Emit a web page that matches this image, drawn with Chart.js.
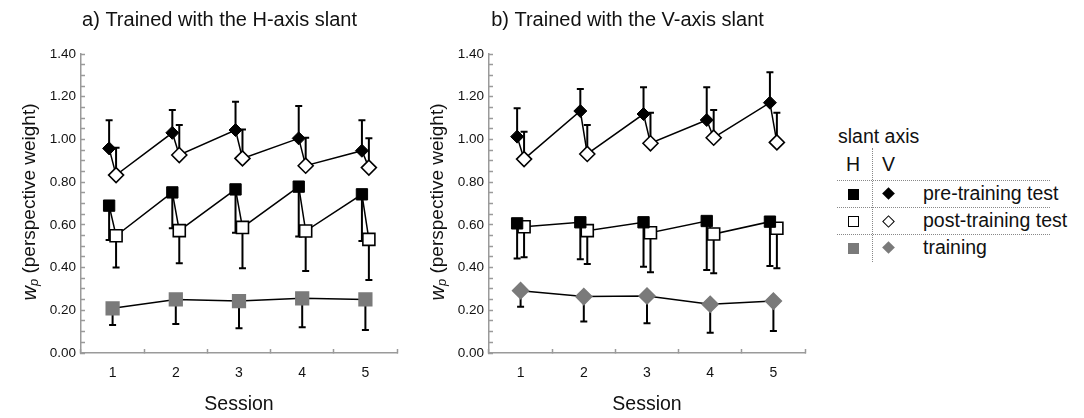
<!DOCTYPE html>
<html>
<head>
<meta charset="utf-8">
<script src="https://cdn.jsdelivr.net/npm/chart.js@4/dist/chart.umd.min.js"></script>
<style>
  body { margin: 0; background: #fff; width: 1084px; height: 418px; position: relative; overflow: hidden;
         font-family: "Liberation Sans", Arial, sans-serif; color: #111; }
  canvas { position: absolute; top: 0; }
  #chartA { left: 0; }
  #chartB { left: 408px; }
  .lg { position: absolute; font-size: 19.5px; line-height: 1; white-space: nowrap; }
  .hdot { position: absolute; height: 0; border-top: 1px dotted #888; }
  .vdot { position: absolute; width: 0; border-left: 1px dotted #888; }
  .sq { position: absolute; width: 11px; height: 11px; box-sizing: border-box; }
  .dm { position: absolute; width: 9px; height: 9px; box-sizing: border-box; transform: rotate(45deg); }
</style>
</head>
<body>
<canvas id="chartA" width="410" height="418"></canvas>
<canvas id="chartB" width="410" height="418"></canvas>

<div class="lg" style="left:838px; top:127px;">slant axis</div>
<div class="lg" style="left:846px; top:155px;">H</div>
<div class="lg" style="left:882px; top:155px;">V</div>
<div class="vdot" style="left:872px; top:148px; height:114px;"></div>
<div class="hdot" style="left:837px; top:180px; width:213px;"></div>
<div class="hdot" style="left:837px; top:207px; width:213px;"></div>
<div class="hdot" style="left:837px; top:234px; width:213px;"></div>
<div class="sq" style="left:848px; top:189px; background:#000;"></div>
<div class="dm" style="left:884px; top:189px; background:#000;"></div>
<div class="lg" style="left:923px; top:184px;">pre-training test</div>
<div class="sq" style="left:848px; top:216px; background:#fff; border:1.5px solid #000;"></div>
<div class="dm" style="left:884px; top:217px; background:#fff; border:1.5px solid #000;"></div>
<div class="lg" style="left:923px; top:211px;">post-training test</div>
<div class="sq" style="left:848px; top:243px; background:#7a7a7a;"></div>
<div class="dm" style="left:884px; top:243px; background:#7a7a7a;"></div>
<div class="lg" style="left:923px; top:238px;">training</div>

<script>
// sessions and tick labels
const sessions = [1, 2, 3, 4, 5];
const titleA = 'a) Trained with the H-axis slant';
const titleB = 'b) Trained with the V-axis slant';

// panel a: trained with H-axis slant (V = diamonds, H = squares)
const aVPre = [0.958, 1.031, 1.044, 1.005, 0.947];
const aVPreHi = [1.090, 1.138, 1.177, 1.156, 1.090];
const aVPost = [0.833, 0.927, 0.911, 0.877, 0.868];
const aVPostHi = [0.961, 1.067, 1.047, 1.008, 1.005];
const aHPre = [0.690, 0.752, 0.766, 0.779, 0.743];
const aHPreLo = [0.529, 0.584, 0.563, 0.545, 0.524];
const aHPost = [0.549, 0.573, 0.588, 0.571, 0.532];
const aHPostLo = [0.400, 0.420, 0.397, 0.384, 0.342];
const aTrain = [0.209, 0.251, 0.243, 0.256, 0.251];
const aTrainLo = [0.131, 0.136, 0.116, 0.120, 0.108];

// panel b: trained with V-axis slant
const bVPre = [1.013, 1.133, 1.119, 1.091, 1.172];
const bVPreHi = [1.146, 1.236, 1.244, 1.244, 1.314];
const bVPost = [0.908, 0.932, 0.982, 1.008, 0.986];
const bVPostHi = [1.036, 1.067, 1.125, 1.138, 1.125];
const bHPre = [0.607, 0.612, 0.612, 0.618, 0.615];
const bHPreLo = [0.443, 0.439, 0.404, 0.389, 0.407];
const bHPost = [0.591, 0.573, 0.563, 0.557, 0.584];
const bHPostLo = [0.448, 0.417, 0.378, 0.373, 0.397];
const bTrain = [0.292, 0.264, 0.267, 0.228, 0.243];
const bTrainLo = [0.217, 0.147, 0.139, 0.095, 0.103];

const SHIFT = 0.055;   // pre drawn a bit left of the session, post a bit right
const GREY = '#7a7a7a';
const FONT = '"Liberation Sans", Arial, sans-serif';

function pts(vals, dx) {
    return vals.map((v, i) => ({ x: sessions[i] + dx, y: v }));
}

function zigzag(pre, post) {
    const out = [];
    pre.forEach((v, i) => {
        out.push({ x: sessions[i] - SHIFT, y: v });
        out.push({ x: sessions[i] + SHIFT, y: post[i] });
    });
    return out;
}

// error bars: one-sided, from the mean to the stored end value
const errorBars = {
    id: 'errorBars',
    beforeDatasetsDraw(chart) {
        const ctx = chart.ctx;
        const ys = chart.scales.y;
        ctx.save();
        ctx.strokeStyle = '#000';
        ctx.lineWidth = 2;
        chart.data.datasets.forEach((ds, di) => {
            if (!ds.errEnd) return;
            const meta = chart.getDatasetMeta(di);
            meta.data.forEach((pt, i) => {
                const y2 = ys.getPixelForValue(ds.errEnd[i]);
                ctx.beginPath();
                ctx.moveTo(pt.x, pt.y);
                ctx.lineTo(pt.x, y2);
                ctx.moveTo(pt.x - 3.5, y2);
                ctx.lineTo(pt.x + 3.5, y2);
                ctx.stroke();
            });
        });
        ctx.restore();
    }
};

// panel title and italic w with subscript p on the y axis
const panelText = {
    id: 'panelText',
    afterDraw(chart, args, opts) {
        const ctx = chart.ctx;
        const area = chart.chartArea;
        ctx.save();
        ctx.fillStyle = '#111';
        ctx.textBaseline = 'middle';
        ctx.textAlign = 'center';
        ctx.font = '20px ' + FONT;
        ctx.fillText(opts.title, area.left + 138.5, 20);

        const big = '19px ' + FONT, ital = 'italic 20px ' + FONT, sub = 'italic 13px ' + FONT;
        const rest = ' (perspective weight)';
        ctx.font = ital; const ww = ctx.measureText('w').width;
        ctx.font = sub; const pw = ctx.measureText('p').width;
        ctx.font = big; const rw = ctx.measureText(rest).width;
        const total = ww + pw + rw;
        ctx.translate(30, 202);
        ctx.rotate(-Math.PI / 2);
        ctx.textAlign = 'left';
        let x = -total / 2;
        ctx.font = ital; ctx.fillText('w', x, 0); x += ww;
        ctx.font = sub; ctx.fillText('p', x, 4); x += pw;
        ctx.font = big; ctx.fillText(rest, x, 0);
        ctx.restore();
    }
};

function makeChart(id, title, d, trainStyle, trainRadius) {
    const datasets = [
        { label: 'V pre', data: pts(d.vPre, -SHIFT), errEnd: d.vPreHi, pointStyle: 'rectRot', pointRadius: 6.5,
          backgroundColor: '#000', borderColor: '#000', borderWidth: 1 },
        { label: 'V post', data: pts(d.vPost, SHIFT), errEnd: d.vPostHi, pointStyle: 'rectRot', pointRadius: 7.5,
          backgroundColor: '#fff', borderColor: '#000', borderWidth: 1.6 },
        { label: 'H pre', data: pts(d.hPre, -SHIFT), errEnd: d.hPreLo, pointStyle: 'rect', pointRadius: 8,
          backgroundColor: '#000', borderColor: '#000', borderWidth: 1 },
        { label: 'H post', data: pts(d.hPost, SHIFT), errEnd: d.hPostLo, pointStyle: 'rect', pointRadius: 8.5,
          backgroundColor: '#fff', borderColor: '#000', borderWidth: 1.6 },
        { label: 'training', data: pts(d.train, 0), errEnd: d.trainLo, pointStyle: trainStyle, pointRadius: trainRadius,
          backgroundColor: GREY, pointBorderColor: GREY, showLine: true, borderColor: '#000', borderWidth: 1.5 },
        { label: 'V line', data: zigzag(d.vPre, d.vPost), showLine: true, pointRadius: 0,
          borderColor: '#000', borderWidth: 1.5 },
        { label: 'H line', data: zigzag(d.hPre, d.hPost), showLine: true, pointRadius: 0,
          borderColor: '#000', borderWidth: 1.5 }
    ];
    return new Chart(document.getElementById(id), {
        type: 'scatter',
        data: { datasets: datasets },
        options: {
            responsive: false,
            animation: false,
            layout: { padding: { top: 54, right: 13, left: 0, bottom: 0 } },
            plugins: { legend: { display: false }, tooltip: { enabled: false }, panelText: { title: title } },
            scales: {
                x: {
                    type: 'linear', min: 0.5, max: 5.5,
                    afterBuildTicks: (s) => { s.ticks = sessions.map(v => ({ value: v })); },
                    afterFit: (s) => { s.height = 65; },
                    grid: { offset: true, drawOnChartArea: false, tickLength: -4, color: '#9a9a9a', tickWidth: 1.5 },
                    border: { color: '#9a9a9a', width: 1.5 },
                    ticks: { padding: 15.5, color: '#111', font: { family: FONT, size: 14 },
                             callback: (v) => String(v) },
                    title: { display: true, text: 'Session', color: '#111', font: { family: FONT, size: 19.5 },
                             padding: { top: 0, bottom: 2 } }
                },
                y: {
                    min: 0, max: 1.4,
                    afterFit: (s) => { s.width = 81; },
                    grid: { drawOnChartArea: false, tickLength: -4, color: '#9a9a9a', tickWidth: 1.5 },
                    border: { color: '#9a9a9a', width: 1.5 },
                    ticks: { stepSize: 0.05, autoSkip: false, maxTicksLimit: 100, padding: 9, color: '#111',
                             font: { family: FONT, size: 13.5 },
                             callback: (v) => Math.abs(v * 5 - Math.round(v * 5)) < 1e-6 ? v.toFixed(2) : '' }
                }
            }
        },
        plugins: [errorBars, panelText]
    });
}

makeChart('chartA', titleA, {
    vPre: aVPre, vPreHi: aVPreHi, vPost: aVPost, vPostHi: aVPostHi,
    hPre: aHPre, hPreLo: aHPreLo, hPost: aHPost, hPostLo: aHPostLo,
    train: aTrain, trainLo: aTrainLo
}, 'rect', 9);

makeChart('chartB', titleB, {
    vPre: bVPre, vPreHi: bVPreHi, vPost: bVPost, vPostHi: bVPostHi,
    hPre: bHPre, hPreLo: bHPreLo, hPost: bHPost, hPostLo: bHPostLo,
    train: bTrain, trainLo: bTrainLo
}, 'rectRot', 8);
</script>
</body>
</html>
